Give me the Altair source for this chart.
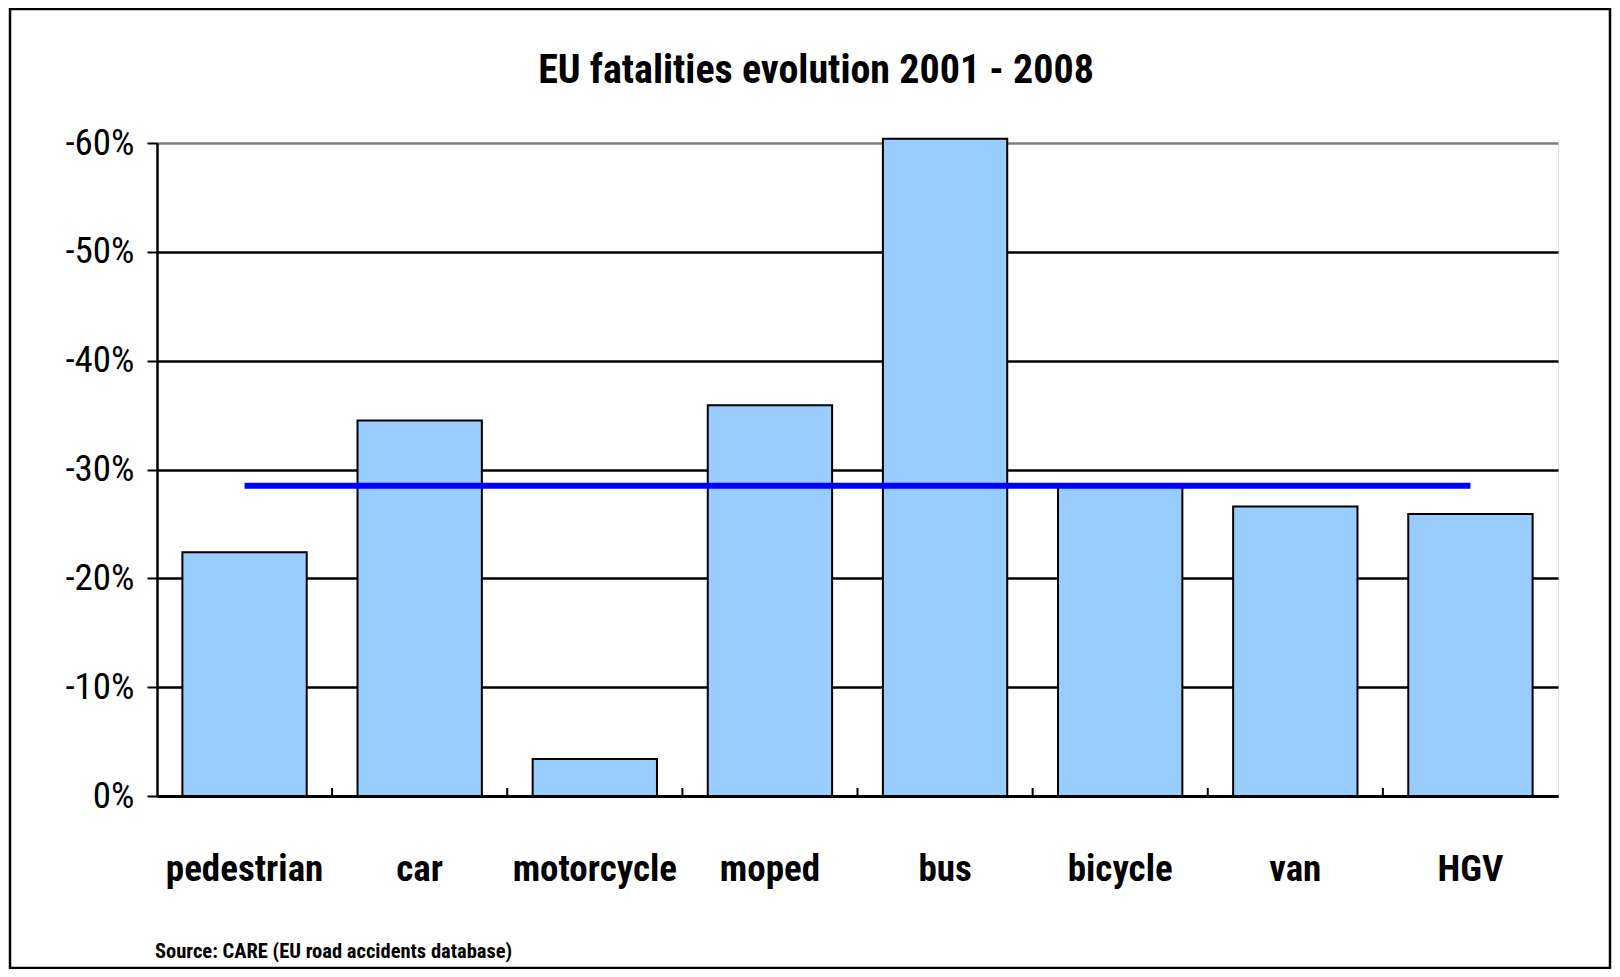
import altair as alt
import pandas as pd

categories = ["pedestrian", "car", "motorcycle", "moped", "bus", "bicycle", "van", "HGV"]
changes = [-0.224, -0.345, -0.034, -0.359, -0.604, -0.286, -0.266, -0.259]
eu_average = -0.285
y_ticks = [0, -0.1, -0.2, -0.3, -0.4, -0.5, -0.6]
title_text = "EU fatalities evolution 2001 - 2008"
source_text = "Source: CARE (EU road accidents database)"

df = pd.DataFrame({"category": categories, "change": changes})
avg_df = pd.DataFrame({"start": [categories[0]], "end": [categories[-1]], "avg": [eu_average]})
tick_df = pd.DataFrame({"category": categories[:-1]})
src_df = pd.DataFrame({"t": [source_text]})
title_df = pd.DataFrame({"t": [title_text]})

FONT = "Liberation Sans Narrow, Arial Narrow, Roboto Condensed, Liberation Sans, Arial, sans-serif"
W, H = 1401, 653
P_IN, P_OUT = 0.29, 0.145
STEP = W / len(categories)
xscale = alt.Scale(domain=categories, paddingInner=P_IN, paddingOuter=P_OUT)
yscale = alt.Scale(domain=[-0.6, 0], reverse=True, nice=False)

x_axis = alt.Axis(
    title=None, labelAngle=0, labelFont=FONT, labelFontSize=37, labelFontWeight="bold",
    labelColor="black", ticks=False, domainColor="black", domainWidth=3,
    labelPadding=73, labelBaseline="middle", grid=False,
)
y_axis = alt.Axis(
    title=None, values=y_ticks, labelExpr="round(datum.value*100) + '%'",
    labelFont=FONT, labelFontSize=37, labelColor="black", labelPadding=13,
    tickColor="black", tickWidth=2, tickSize=10, domainColor="black", domainWidth=2.5,
    grid=True, gridWidth=2.5,
    gridColor={"condition": {"test": "datum.value < -0.59", "value": "#808080"}, "value": "black"},
)

bars = alt.Chart(df).mark_bar(color="#99CCFF", stroke="black", strokeWidth=2).encode(
    x=alt.X("category:N", scale=xscale, axis=x_axis, sort=categories),
    y=alt.Y("change:Q", scale=yscale, axis=y_axis),
)

ticks = alt.Chart(tick_df).mark_rule(
    color="black", strokeWidth=2, xOffset=STEP * P_IN / 2
).encode(
    x=alt.X("category:N", scale=xscale, sort=categories, bandPosition=1, title=None),
    y=alt.value(H),
    y2=alt.value(H - 8),
)

avg_line = alt.Chart(avg_df).mark_rule(color="#0000FF", strokeWidth=6).encode(
    x=alt.X("start:N", scale=xscale, title=None),
    x2="end:N",
    y=alt.Y("avg:Q", scale=yscale, title=None),
)

title = alt.Chart(title_df).mark_text(
    align="center", baseline="middle", font=FONT, fontSize=40, fontWeight="bold", color="black"
).encode(text="t:N", x=alt.value(659), y=alt.value(-72))

source = alt.Chart(src_df).mark_text(
    align="left", baseline="alphabetic", font=FONT, fontSize=20.5, fontWeight="bold", color="black"
).encode(text="t:N", x=alt.value(-2), y=alt.value(H + 162))

border = alt.Chart(src_df).mark_rect(filled=False, stroke="black", strokeWidth=2.5).encode(
    x=alt.value(-147), x2=alt.value(1453), y=alt.value(-134), y2=alt.value(H + 172)
)

chart = alt.layer(bars, ticks, avg_line, title, source, border).properties(
    width=W, height=H,
    autosize=alt.AutoSizeParams(type="none"),
    padding={"left": 149, "top": 135, "right": 54, "bottom": 173},
).configure_view(stroke="#808080", strokeWidth=2).configure(background="white")

chart.save("out.html", embed_options={"renderer": "svg", "actions": False})
